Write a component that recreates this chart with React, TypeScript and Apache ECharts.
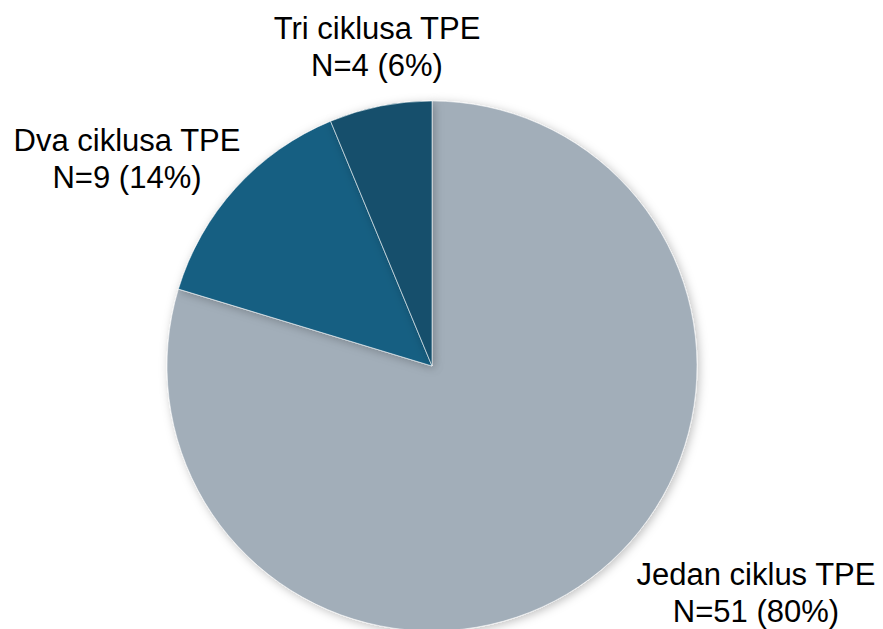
import React, { useEffect, useRef } from "react";
import * as echarts from "echarts";

const categories = ["Jedan ciklus TPE", "Dva ciklusa TPE", "Tri ciklusa TPE"];
const counts = [51, 9, 4];
const percents = [80, 14, 6];
const colors = ["#A2AEB9", "#175F82", "#124F6C"];
const labelPositions = [
  [756, 593],
  [127, 159],
  [377, 47],
];

export default function App() {
  const ref = useRef<HTMLDivElement>(null);
  useEffect(() => {
    if (!ref.current) return;
    const chart = echarts.init(ref.current, null, { renderer: "svg" });
    chart.setOption({
      animation: false,
      backgroundColor: "#ffffff",
      series: [
        {
          type: "pie",
          center: [432, 366],
          radius: [0, 265],
          startAngle: 90,
          clockwise: true,
          silent: true,
          data: categories.map((name, i) => ({
            name,
            value: counts[i],
            itemStyle: { color: colors[i] },
          })),
          itemStyle: {
            borderColor: "rgba(255,255,255,0.55)",
            borderWidth: 1,
            shadowBlur: 10,
            shadowColor: "rgba(0,0,0,0.25)",
            shadowOffsetX: 2,
            shadowOffsetY: 2,
          },
          label: {
            show: true,
            position: "outside",
            formatter: (p: any) =>
              `${p.name}\nN=${counts[p.dataIndex]} (${percents[p.dataIndex]}%)`,
            fontFamily: "Liberation Sans, Arial, sans-serif",
            fontSize: 31,
            lineHeight: 37,
            color: "#000000",
            align: "center",
            overflow: "none",
            width: 400,
          },
          labelLine: { show: false },
          labelLayout: (params: any) => {
            const pos = labelPositions[params.dataIndex];
            return {
              x: pos[0],
              y: pos[1],
              align: "center",
              verticalAlign: "middle",
              hideOverlap: false,
            };
          },
        },
      ],
    });
    return () => chart.dispose();
  }, []);
  return (
    <div
      ref={ref}
      style={{ position: "fixed", left: 0, top: 0, width: 883, height: 629 }}
    />
  );
}
